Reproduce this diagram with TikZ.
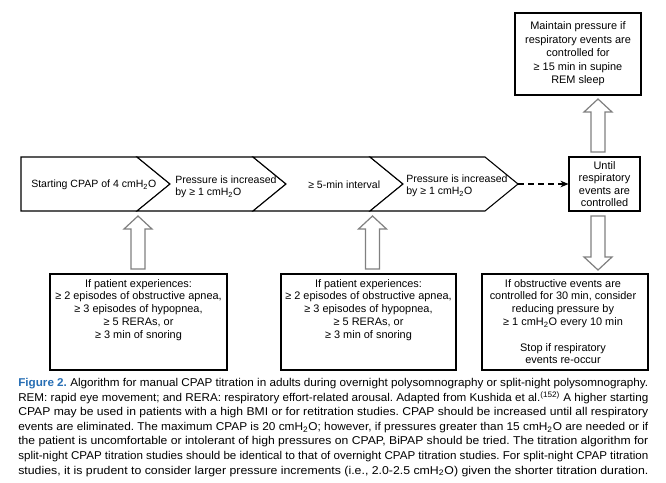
\documentclass[tikz,border=0pt]{standalone}
\usepackage{fontspec}
\usepackage{graphicx}
\setmainfont{Liberation Sans}
\usetikzlibrary{calc,arrows.meta}
\definecolor{capblue}{RGB}{38,110,180}
\definecolor{arrowgray}{RGB}{128,128,128}
\newcommand\cmh{cmH\textsubscript{2}O}
\newcommand\blockarrow[2]{%
  \draw[barrow] let \p1=(#1), \p2=(#2), \n1={sign(\y2-\y1)} in
    (\x1-5.25pt,\y1) -- (\x1-5.25pt,\y2-\n1*9.75pt) -- (\x1-10.5pt,\y2-\n1*9.75pt)
    -- (\x2,\y2) -- (\x1+10.5pt,\y2-\n1*9.75pt) -- (\x1+5.25pt,\y2-\n1*9.75pt)
    -- (\x1+5.25pt,\y1) -- cycle;}
\newcommand\capline[1]{\hbox to\hsize{\resizebox{\hsize}{\height}{#1}}}
\begin{document}
\begin{tikzpicture}[x=0.75pt,y=-0.75pt,
  chev/.style={draw=black,line width=0.8pt,fill=white},
  lbl/.style={inner sep=0pt,align=left,font=\fontsize{7.9}{9.4}\selectfont},
  ctext/.style={inner sep=0pt,align=center,font=\fontsize{8.2}{9.6}\selectfont},
  boxframe/.style={draw=black,line width=0.8pt,inner sep=0pt},
  barrow/.style={draw=arrowgray,line width=0.9pt,fill=white},
  dasharrow/.style={draw=black,line width=0.8pt,dash pattern=on 4.5pt off 3pt,-{Stealth[length=6pt,width=5pt]}}]
\fill[white] (0,0) rectangle (666,482);
\useasboundingbox (0,0) rectangle (666,482);

% chevron row
\draw[chev] (21,157) -- (137,157) -- (170,184) -- (137,211) -- (21,211) -- cycle;
\draw[chev] (137,157) -- (253,157) -- (286,184) -- (253,211) -- (137,211) -- (170,184) -- cycle;
\draw[chev] (253,157) -- (370,157) -- (403,184) -- (370,211) -- (253,211) -- (286,184) -- cycle;
\draw[chev] (370,157) -- (485,157) -- (518,184) -- (485,211) -- (370,211) -- (403,184) -- cycle;

\node[lbl,anchor=west] (s1) at (31,185) {Starting CPAP of 4 \cmh};
\node[lbl,anchor=west] (s2) at (175,187) {Pressure is increased\\by ≥ 1 \cmh};
\node[lbl,anchor=west] (s3) at (308,185) {≥ 5-min interval};
\node[lbl,anchor=west] (s4) at (406,186) {Pressure is increased\\by ≥ 1 \cmh};

% until box
\node[boxframe,ctext,font=\fontsize{8.2}{9.4}\selectfont,minimum width=53.25pt,minimum height=40.5pt] (until) at (604.5,184) {Until\\respiratory\\events are\\controlled};
\coordinate (tip4) at (518,184);
\draw[dasharrow] (tip4) -- (until.west);

% top box
\node[boxframe,ctext,font=\fontsize{8.2}{10.1}\selectfont,minimum width=94.5pt,minimum height=61.5pt] (maintain) at (578,54) {Maintain pressure if\\respiratory events are\\controlled for\\≥ 15 min in supine\\REM sleep};

% bottom boxes
\node[boxframe,minimum width=132.75pt,minimum height=72pt] (b1) at (138.5,322) {};
\node[boxframe,minimum width=131.25pt,minimum height=72pt] (b2) at (368.5,322) {};
\node[boxframe,minimum width=124.5pt,minimum height=72pt] (b3) at (565,322) {};

\node[ctext,anchor=north] (t1) at (138.5,279) {If patient experiences:\\≥ 2 episodes of obstructive apnea,\\≥ 3 episodes of hypopnea,\\≥ 5 RERAs, or\\≥ 3 min of snoring};
\node[ctext,anchor=north] (t2) at (368.5,279) {If patient experiences:\\≥ 2 episodes of obstructive apnea,\\≥ 3 episodes of hypopnea,\\≥ 5 RERAs, or\\≥ 3 min of snoring};
\node[ctext,anchor=north] (t3) at (563,279) {If obstructive events are\\controlled for 30 min, consider\\reducing pressure by\\≥ 1 \cmh{} every 10 min\\[9.6pt]Stop if respiratory\\events re-occur};

% block arrows
\coordinate (a1t) at (138,269);   \coordinate (a1h) at (138,216);
\coordinate (a2t) at (372.5,269); \coordinate (a2h) at (372.5,216);
\coordinate (a3t) at (598,216);   \coordinate (a3h) at (598,270);
\coordinate (a4t) at (598,152);   \coordinate (a4h) at (598,99);
\blockarrow{a1t}{a1h}
\blockarrow{a2t}{a2h}
\blockarrow{a3t}{a3h}
\blockarrow{a4t}{a4h}

% caption
\node[anchor=north west,inner sep=0pt] (cap) at (18,378) {\parbox{472.5pt}{\frenchspacing\fontsize{8.5}{10.95}\selectfont
\capline{\textcolor{capblue}{\textbf{Figure 2.}} Algorithm for manual CPAP titration in adults during overnight polysomnography or split-night polysomnography.}
\capline{REM: rapid eye movement; and RERA: respiratory effort-related arousal. Adapted from Kushida et al.\textsuperscript{(152)} A higher starting}
\capline{CPAP may be used in patients with a high BMI or for retitration studies. CPAP should be increased until all respiratory}
\capline{events are eliminated. The maximum CPAP is 20 \cmh; however, if pressures greater than 15 \cmh{} are needed or if}
\capline{the patient is uncomfortable or intolerant of high pressures on CPAP, BiPAP should be tried. The titration algorithm for}
\capline{split-night CPAP titration studies should be identical to that of overnight CPAP titration studies. For split-night CPAP titration}
\capline{studies, it is prudent to consider larger pressure increments (i.e., 2.0-2.5 \cmh) given the shorter titration duration.}}};
\end{tikzpicture}
\end{document}
